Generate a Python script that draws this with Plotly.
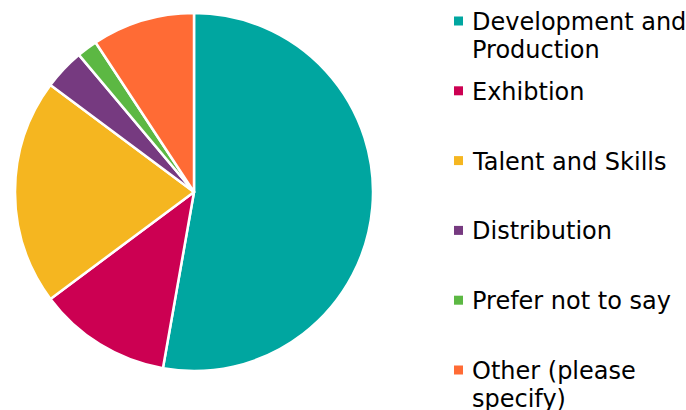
import plotly.graph_objects as go

categories = ["Development and<br>Production", "Exhibtion", "Talent and Skills",
              "Distribution", "Prefer not to say", "Other (please<br>specify)"]
values = [57, 13, 22, 4, 2, 10]
colors = ["#00A6A0", "#CC0052", "#F5B620", "#763A80", "#5CB843", "#FF6B35"]

W, H = 686, 410
fig = go.Figure()
fig.add_trace(go.Pie(
    labels=[c.replace("<br>", " ") for c in categories],
    values=values,
    sort=False,
    direction="clockwise",
    rotation=0,
    marker=dict(colors=colors, line=dict(color="white", width=2.5)),
    textinfo="none",
    hoverinfo="label+percent",
    showlegend=False,
    domain=dict(x=[15 / W, 373 / W], y=[1 - 371 / H, 1 - 13 / H]),
))

# Manual legend (evenly spaced entries like the original)
top_c, pitch = 21, 69.8
line_gap = 28
font = dict(family="DejaVu Sans, Verdana, sans-serif", size=24, color="#000000")
for i, (cat, col) in enumerate(zip(categories, colors)):
    yc = top_c + i * pitch
    fig.add_shape(type="rect", xref="paper", yref="paper",
                  x0=454 / W, x1=463 / W, y0=1 - (yc - 4.5) / H, y1=1 - (yc + 4.5) / H,
                  fillcolor=col, line=dict(width=0))
    for j, line in enumerate(cat.split("<br>")):
        fig.add_annotation(x=470 / W, y=1 - (yc + 1 + j * line_gap) / H,
                           xref="paper", yref="paper", xanchor="left", yanchor="middle",
                           text=line, showarrow=False, font=font)

fig.update_layout(width=W, height=H, margin=dict(l=0, r=0, t=0, b=0),
                  paper_bgcolor="white", plot_bgcolor="white")
fig.write_html("out.html", config={"displayModeBar": False},
               post_script="document.body.style.margin='0';document.body.style.overflow='hidden';")
